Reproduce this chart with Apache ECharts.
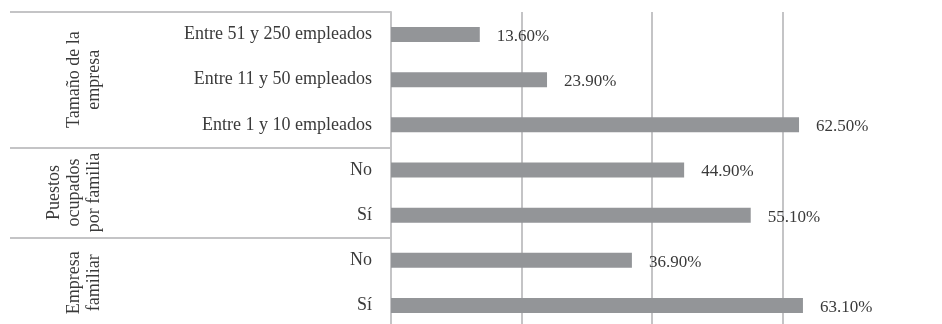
<!DOCTYPE html>
<html>
<head>
<meta charset="utf-8">
<style>
  html, body { margin: 0; padding: 0; background: #ffffff; }
  #chart { width: 942px; height: 324px; }
</style>
<script src="https://cdn.jsdelivr.net/npm/echarts@6/dist/echarts.min.js"></script>
</head>
<body>
<div id="chart"></div>
<script>
// Categories, top to bottom
const categories = [
  'Entre 51 y 250 empleados',
  'Entre 11 y 50 empleados',
  'Entre 1 y 10 empleados',
  'No',
  'Sí',
  'No',
  'Sí'
];
// Percentages per category
const values = [13.6, 23.9, 62.5, 44.9, 55.1, 36.9, 63.1];

// Group headings and the category span each one covers
const groupNames = ['Tamaño de la\nempresa', 'Puestos\nocupados\npor familia', 'Empresa\nfamiliar'];
const groupSizes = [3, 2, 2];

// Value-axis ticks (percent)
const xTicks = [0, 20, 40, 60];

// Group boundaries and centres, in category units
const groupBounds = [0];
groupSizes.forEach(s => groupBounds.push(groupBounds[groupBounds.length - 1] + s));
const groupCenters = groupSizes.map((s, i) => groupBounds[i] + s / 2);

const FONT = '"Liberation Serif", "DejaVu Serif", serif';
const TEXT = '#3a3a3a';
const LINE = '#c4c4c6';

const chart = echarts.init(document.getElementById('chart'), null, { renderer: 'canvas' });

chart.setOption({
  animation: false,
  backgroundColor: '#ffffff',
  grid: { left: 391, top: 12, right: 94, height: 316, containLabel: false, outerBoundsMode: 'none' },
  xAxis: {
    type: 'value',
    min: xTicks[0],
    max: 70,
    interval: xTicks[1] - xTicks[0],
    axisLine: { show: false },
    axisTick: { show: false },
    axisLabel: { show: false },
    splitLine: {
      show: true,
      showMinLine: false,
      showMaxLine: false,
      lineStyle: { color: LINE, width: 2 }
    }
  },
  yAxis: [
    {
      type: 'category',
      data: categories,
      inverse: true,
      axisLine: { show: true, lineStyle: { color: LINE, width: 2 } },
      axisTick: { show: false },
      axisLabel: {
        margin: 19,
        fontFamily: FONT,
        fontSize: 18,
        color: TEXT
      }
    },
    {
      // Group headings and separators, placed by category position
      type: 'value',
      position: 'left',
      inverse: true,
      min: 0,
      max: categories.length,
      axisLine: { show: false },
      splitLine: { show: false },
      axisTick: {
        show: true,
        customValues: groupBounds,
        length: 381,
        lineStyle: { color: LINE, width: 2 }
      },
      axisLabel: {
        show: true,
        customValues: groupCenters,
        rotate: 90,
        margin: 287,
        align: 'center',
        verticalAlign: 'bottom',
        fontFamily: FONT,
        fontSize: 18,
        lineHeight: 20,
        color: TEXT,
        formatter: function (v) {
          const i = groupCenters.indexOf(v);
          return i >= 0 ? groupNames[i] : '';
        }
      }
    }
  ],
  series: [
    {
      type: 'bar',
      yAxisIndex: 0,
      data: values,
      barWidth: 15,
      itemStyle: { color: '#939598' },
      label: {
        show: true,
        position: 'right',
        distance: 17,
        fontFamily: FONT,
        fontSize: 17,
        color: TEXT,
        offset: [0, 2],
        formatter: p => p.value.toFixed(2) + '%'
      }
    }
  ]
});
</script>
</body>
</html>
